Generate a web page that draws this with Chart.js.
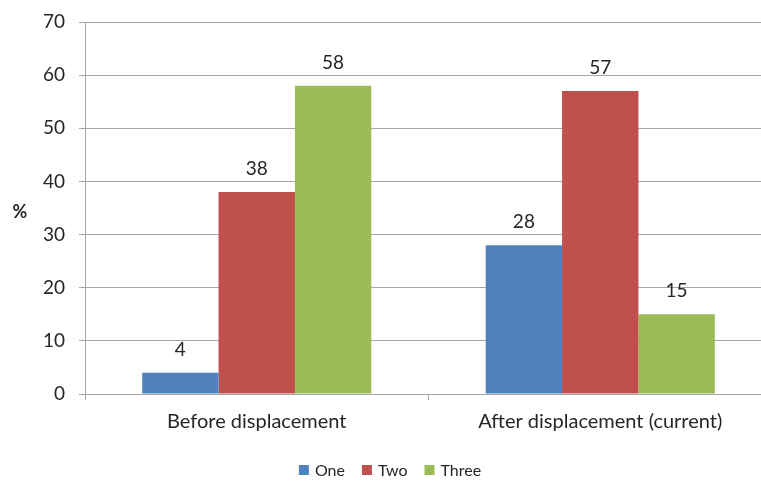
<!DOCTYPE html>
<html>
<head>
<meta charset="utf-8">
<script src="https://cdn.jsdelivr.net/npm/chart.js@4/dist/chart.umd.min.js"></script>
<style>
  html, body { margin: 0; padding: 0; background: #fff; overflow: hidden; }
  #wrap { width: 772px; height: 483px; position: relative; }
</style>
</head>
<body>
<div id="wrap"><canvas id="chart"></canvas></div>
<script>
const categories = ['Before displacement', 'After displacement (current)'];
const seriesNames = ['One', 'Two', 'Three'];
const seriesOne = [4, 28];
const seriesTwo = [38, 57];
const seriesThree = [58, 15];
const yTicks = [0, 10, 20, 30, 40, 50, 60, 70];

const colors = ['#4F81BD', '#C0504D', '#9BBB59'];
const FONT = 'Lato, "Open Sans", sans-serif';
const TEXT = '#262626';
const GRID = '#A6A6A6';

// Value labels drawn above every bar
const valueLabels = {
  id: 'valueLabels',
  afterDatasetsDraw(chart) {
    const ctx = chart.ctx;
    ctx.save();
    ctx.font = '19px ' + FONT;
    ctx.fillStyle = TEXT;
    ctx.textAlign = 'center';
    ctx.textBaseline = 'middle';
    chart.data.datasets.forEach((ds, i) => {
      chart.getDatasetMeta(i).data.forEach((bar, j) => {
        ctx.fillText(String(ds.data[j]), bar.x, bar.y - 23);
      });
    });
    ctx.restore();
  }
};

// Horizontal unit label beside the value axis
const unitLabel = {
  id: 'unitLabel',
  afterDraw(chart) {
    const ctx = chart.ctx;
    ctx.save();
    ctx.font = 'bold 18px ' + FONT;
    ctx.fillStyle = TEXT;
    ctx.textAlign = 'center';
    ctx.textBaseline = 'middle';
    ctx.fillText('%', 20, 212);
    ctx.restore();
  }
};

// Series key centred under the plot
const seriesKey = {
  id: 'seriesKey',
  afterDraw(chart) {
    const ctx = chart.ctx;
    ctx.save();
    ctx.font = '16px ' + FONT;
    ctx.textBaseline = 'middle';
    ctx.textAlign = 'left';
    const box = 10, gapText = 6, gapItem = 17, y = 470;
    const items = chart.data.datasets.map(ds => ({
      label: ds.label, color: ds.backgroundColor, w: box + gapText + ctx.measureText(ds.label).width
    }));
    const total = items.reduce((s, it) => s + it.w, 0) + gapItem * (items.length - 1);
    let x = 390 - total / 2;
    items.forEach(it => {
      ctx.fillStyle = it.color;
      ctx.fillRect(x, y - box / 2, box, box);
      ctx.fillStyle = TEXT;
      ctx.fillText(it.label, x + box + gapText, y + 1);
      x += it.w + gapItem;
    });
    ctx.restore();
  }
};

new Chart(document.getElementById('chart'), {
  type: 'bar',
  data: {
    labels: categories,
    datasets: [
      { label: seriesNames[0], data: seriesOne, backgroundColor: colors[0] },
      { label: seriesNames[1], data: seriesTwo, backgroundColor: colors[1] },
      { label: seriesNames[2], data: seriesThree, backgroundColor: colors[2] }
    ]
  },
  options: {
    responsive: true,
    maintainAspectRatio: false,
    animation: false,
    layout: { padding: { top: 22, left: 0, right: 0, bottom: 40 } },
    datasets: { bar: { categoryPercentage: 0.667, barPercentage: 1.0, borderWidth: 0 } },
    plugins: {
      legend: { display: false },
      tooltip: { enabled: false }
    },
    scales: {
      x: {
        grid: { display: true, drawOnChartArea: false, drawTicks: true, tickLength: 6, color: GRID, offset: true },
        border: { display: true, color: GRID, width: 1 },
        ticks: { font: { family: FONT, size: 20 }, color: TEXT, padding: 10 },
        afterFit(scale) { scale.height = 49; }
      },
      y: {
        min: 0,
        max: 70,
        afterBuildTicks(scale) { scale.ticks = yTicks.map(v => ({ value: v })); },
        grid: { color: GRID, tickLength: 6, drawTicks: true },
        border: { display: true, color: GRID, width: 1 },
        ticks: { font: { family: FONT, size: 19 }, color: TEXT, padding: 14 },
        afterFit(scale) {
          scale.width = 85;
          scale.paddingTop = 0;
          scale.paddingBottom = 0;
        }
      }
    }
  },
  plugins: [valueLabels, unitLabel, seriesKey]
});
</script>
</body>
</html>
